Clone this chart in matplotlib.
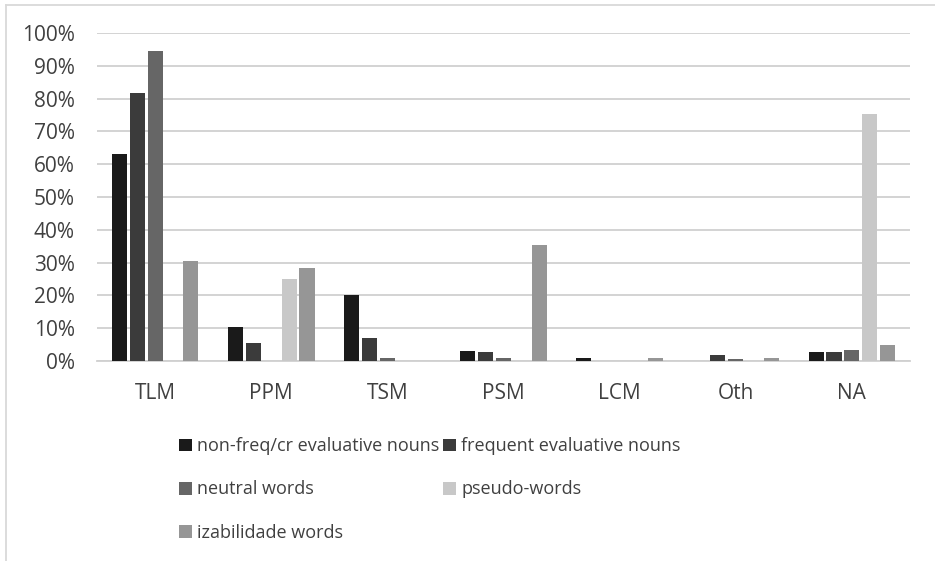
import numpy as np
import matplotlib.pyplot as plt
from matplotlib.lines import Line2D
from matplotlib.ticker import PercentFormatter

plt.rcParams['font.family'] = ['Open Sans', 'DejaVu Sans']

categories = ['TLM', 'PPM', 'TSM', 'PSM', 'LCM', 'Oth', 'NA']
series = ['non-freq/cr evaluative nouns', 'frequent evaluative nouns',
          'neutral words', 'pseudo-words', 'izabilidade words']
nonfreq = [63.0, 10.5, 20.0, 3.2, 0.8, 0.0, 2.8]
frequent = [81.7, 5.5, 7.0, 2.8, 0.0, 1.8, 2.8]
neutral = [94.5, 0.0, 1.0, 1.0, 0.0, 0.7, 3.3]
pseudo = [0.0, 25.0, 0.0, 0.0, 0.0, 0.0, 75.3]
izabilidade = [30.5, 28.5, 0.0, 35.5, 1.0, 1.0, 4.8]
values = [nonfreq, frequent, neutral, pseudo, izabilidade]
colors = ['#1a1a1a', '#3b3b3b', '#666666', '#c8c8c8', '#969696']

fig = plt.figure(figsize=(9.35, 5.61), dpi=100)
ax = fig.add_axes([97/935, 1-361/561, (910-97)/935, (361-33)/561])

x = np.arange(len(categories))
bars = []
for j, (vals, c) in enumerate(zip(values, colors)):
    b = ax.bar(x + (j-2)*0.154, np.array(vals)/100, width=0.13, color=c, zorder=3,
               label=series[j])
    bars.append(b)

ax.set_xlim(-0.5, 6.5)
ax.set_ylim(0, 1)
ax.set_yticks(np.arange(0, 1.01, 0.1))
ax.yaxis.set_major_formatter(PercentFormatter(1.0, decimals=0))
ax.set_xticks(x)
ax.set_xticklabels(categories)
ax.grid(axis='y', color='#d0d0d0', linewidth=1.3, zorder=0)
for s in ['top', 'right', 'left']:
    ax.spines[s].set_visible(False)
ax.spines['bottom'].set_color('#d0d0d0')
ax.spines['bottom'].set_linewidth(1.3)
ax.tick_params(length=0, labelsize=15, colors='#404040')
ax.tick_params(axis='y', pad=16)
ax.tick_params(axis='x', pad=16)

order = [0, 2, 4, 1, 3]
leg = fig.legend([bars[i] for i in order], [series[i] for i in order],
                 ncol=2, loc='upper left', bbox_to_anchor=(172/935, 1-430/561),
                 frameon=False, fontsize=13, handlelength=0.7, handleheight=0.7,
                 handletextpad=0.3, columnspacing=0.2, labelspacing=1.4,
                 borderaxespad=0)
for t in leg.get_texts():
    t.set_color('#404040')

# outer chart border
fig.add_artist(Line2D([6/935, 6/935], [0, 1-5/561], color='#d9d9d9', linewidth=1.3))
fig.add_artist(Line2D([6/935, 1], [1-5/561, 1-5/561], color='#d9d9d9', linewidth=1.3))

fig.savefig('out.png', dpi=100)
